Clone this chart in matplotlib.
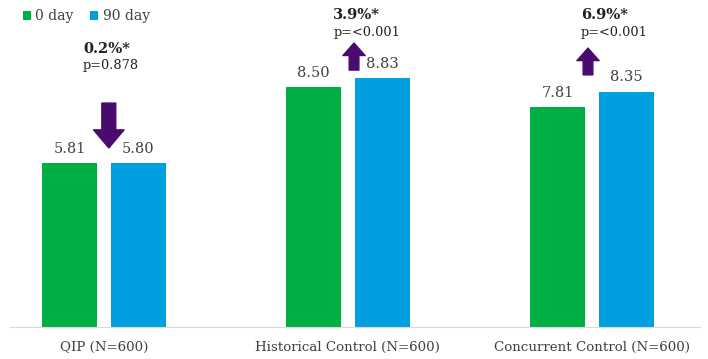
import matplotlib
matplotlib.use('Agg')
import matplotlib.pyplot as plt
import numpy as np

# ── Data ──────────────────────────────────────────────────────────────────────
categories = ['QIP (N=600)', 'Historical Control (N=600)', 'Concurrent Control (N=600)']
day0 = [5.81, 8.50, 7.81]
day90 = [5.80, 8.83, 8.35]
pct_labels = ['0.2%*', '3.9%*', '6.9%*']
p_labels = ['p=0.878', 'p=<0.001', 'p=<0.001']
direction = ['down', 'up', 'up']

C_GREEN = '#00AF43'
C_BLUE = '#00A0E0'
C_ARROW = '#4A0B6E'
C_TEXT = '#404040'

plt.rcParams['font.family'] = ['DejaVu Serif']

fig = plt.figure(figsize=(7.08, 3.59), dpi=100)
ax = fig.add_axes([10/708, 32/359, 690/708, 327/359])
ax.set_xlim(-0.385, 2.443)
ax.set_ylim(0, 327/28.2)

x = np.arange(len(categories))
w = 0.225
off = 0.141
b0 = ax.bar(x - off, day0, w, color=C_GREEN, label='0 day')
b1 = ax.bar(x + off, day90, w, color=C_BLUE, label='90 day')

for bars, vals in [(b0, day0), (b1, day90)]:
    for b, v in zip(bars, vals):
        ax.text(b.get_x() + b.get_width()/2, v + 0.25, f'{v:.2f}',
                ha='center', va='bottom', fontsize=10.5, color=C_TEXT)

# ── Change annotations ───────────────────────────────────────────────────────
text_x = [-0.086, 0.94, 1.955]
pct_y = [9.86, 11.06, 11.06]
p_y = [9.29, 10.46, 10.46]
arrow_x = [0.02, 1.025, 1.984]
arrow_span = [(7.94, 6.35), (9.11, 10.07), (8.94, 9.89)]

for i in range(len(categories)):
    ax.text(text_x[i], pct_y[i], pct_labels[i], ha='left', va='center',
            fontsize=10.5, fontweight='bold', color='#202020')
    ax.text(text_x[i], p_y[i], p_labels[i], ha='left', va='center',
            fontsize=9.3, color='#202020')
    y0, y1 = arrow_span[i]
    if direction[i] == 'down':
        style = 'simple,head_width=22,head_length=13,tail_width=10'
    else:
        style = 'simple,head_width=16,head_length=9,tail_width=7'
    ax.annotate('', xy=(arrow_x[i], y1), xytext=(arrow_x[i], y0),
                arrowprops=dict(arrowstyle=style, color=C_ARROW,
                                mutation_scale=1, shrinkA=0, shrinkB=0))

ax.set_xticks(x)
ax.set_xticklabels(categories, fontsize=9.6, color=C_TEXT)
ax.tick_params(axis='x', length=0, pad=10)
ax.set_yticks([])
for s in ['top', 'right', 'left']:
    ax.spines[s].set_visible(False)
ax.spines['bottom'].set_color('#D9D9D9')

ax.legend(loc='upper left', bbox_to_anchor=(0.0, 1.01), ncol=2, frameon=False,
          fontsize=10, handlelength=0.6, handleheight=0.6, handletextpad=0.3,
          columnspacing=1.2, labelcolor=C_TEXT)

fig.savefig('out.png', dpi=100, facecolor='white')
